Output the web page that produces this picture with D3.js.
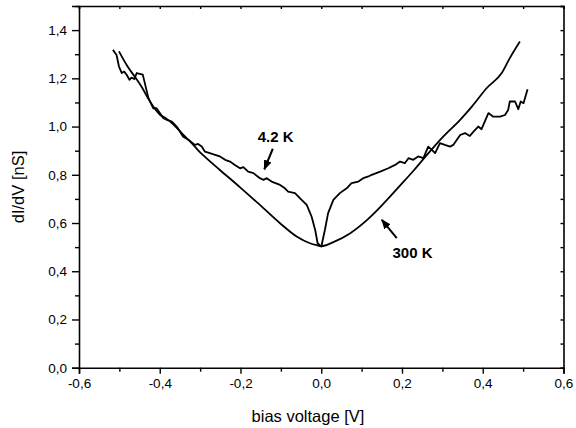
<!DOCTYPE html>
<html>
<head>
<meta charset="utf-8">
<script src="https://cdn.jsdelivr.net/npm/d3@7"></script>
<style>
  html, body { margin: 0; padding: 0; background: #fff; }
  svg { display: block; font-family: "Liberation Sans", Arial, sans-serif; }
</style>
</head>
<body>
<div id="chart"></div>
<script>
/* dI/dV vs bias voltage, 4.2 K и 300 K */

// Кривая 4.2 K (шумная, с провалом в нуле)
const curveLow = [
  [-0.516, 1.318], [-0.507, 1.297], [-0.501, 1.249], [-0.494, 1.222], [-0.488, 1.228],
  [-0.482, 1.215], [-0.475, 1.194], [-0.470, 1.203], [-0.463, 1.197], [-0.457, 1.222],
  [-0.442, 1.215], [-0.437, 1.180], [-0.428, 1.118], [-0.416, 1.076], [-0.408, 1.076],
  [-0.391, 1.035], [-0.383, 1.028], [-0.370, 1.021], [-0.358, 1.000], [-0.342, 0.958],
  [-0.329, 0.945], [-0.313, 0.924], [-0.305, 0.928], [-0.296, 0.917], [-0.288, 0.896],
  [-0.276, 0.890], [-0.263, 0.883], [-0.251, 0.876], [-0.238, 0.862], [-0.226, 0.855],
  [-0.214, 0.841], [-0.201, 0.827], [-0.193, 0.832], [-0.181, 0.813], [-0.168, 0.807],
  [-0.152, 0.786], [-0.143, 0.779], [-0.135, 0.786], [-0.123, 0.772], [-0.102, 0.758],
  [-0.090, 0.744], [-0.082, 0.730], [-0.065, 0.724], [-0.053, 0.703], [-0.036, 0.675],
  [-0.024, 0.627], [-0.015, 0.571], [-0.009, 0.516], [0.000, 0.502], [0.001, 0.509],
  [0.009, 0.571], [0.017, 0.641], [0.030, 0.696], [0.046, 0.724], [0.063, 0.744],
  [0.075, 0.765], [0.092, 0.772], [0.104, 0.786], [0.117, 0.793], [0.125, 0.800],
  [0.146, 0.813], [0.166, 0.827], [0.183, 0.841], [0.195, 0.855], [0.207, 0.848],
  [0.216, 0.869], [0.228, 0.862], [0.240, 0.876], [0.253, 0.869], [0.265, 0.917],
  [0.274, 0.903], [0.282, 0.890], [0.294, 0.931], [0.306, 0.924], [0.319, 0.917],
  [0.327, 0.924], [0.344, 0.965], [0.356, 0.973], [0.368, 0.961], [0.377, 0.979],
  [0.389, 1.000], [0.397, 0.989], [0.414, 1.056], [0.426, 1.041], [0.443, 1.041],
  [0.455, 1.048], [0.463, 1.069], [0.467, 1.104], [0.480, 1.104], [0.488, 1.072],
  [0.494, 1.104], [0.501, 1.097], [0.511, 1.155]
];

// Кривая 300 K (гладкая, V-образная)
const curveHigh = [
  [-0.501, 1.312], [-0.480, 1.250], [-0.461, 1.205], [-0.445, 1.165], [-0.430, 1.120],
  [-0.416, 1.083], [-0.400, 1.050], [-0.385, 1.035], [-0.370, 1.015], [-0.337, 0.958],
  [-0.313, 0.917], [-0.300, 0.893], [-0.288, 0.874], [-0.251, 0.820], [-0.201, 0.748],
  [-0.152, 0.675], [-0.102, 0.599], [-0.061, 0.544], [-0.028, 0.516], [-0.011, 0.508],
  [0.000, 0.504], [0.030, 0.521], [0.071, 0.557], [0.113, 0.612], [0.154, 0.680],
  [0.195, 0.755], [0.230, 0.820], [0.257, 0.873], [0.302, 0.958], [0.344, 1.028],
  [0.373, 1.083], [0.410, 1.160], [0.447, 1.222], [0.467, 1.284], [0.492, 1.353]
];

// Деления осей
const xTickValues = [-0.6, -0.4, -0.2, 0.0, 0.2, 0.4, 0.6];
const xMinorValues = [-0.5, -0.3, -0.1, 0.1, 0.3, 0.5];
const yTickValues = [0.0, 0.2, 0.4, 0.6, 0.8, 1.0, 1.2, 1.4];
const yMinorValues = [0.1, 0.3, 0.5, 0.7, 0.9, 1.1, 1.3, 1.5];

// Подписи со стрелками (в единицах данных)
const annotations = [
  { text: '4.2 K', at: [-0.113, 0.934], from: [-0.120, 0.908], to: [-0.141, 0.823] },
  { text: '300 K', at: [0.226, 0.457], from: [0.187, 0.537], to: [0.150, 0.613] }
];

const W = 576, H = 428;
const margin = { top: 6, right: 12.5, bottom: 60.3, left: 79 };
const width = W - margin.left - margin.right;
const height = H - margin.top - margin.bottom;

const fmt = d => d.toFixed(1).replace('.', ',');

const svg = d3.select('#chart').append('svg')
  .attr('width', W)
  .attr('height', H);

const x = d3.scaleLinear().domain([-0.6, 0.6]).range([margin.left, margin.left + width]);
const y = d3.scaleLinear().domain([0, 1.5]).range([margin.top + height, margin.top]);

// Оси
function styleAxis(g) {
  g.selectAll('path.domain').attr('stroke', '#000').attr('stroke-width', 1.6);
  g.selectAll('.tick line').attr('stroke', '#000').attr('stroke-width', 1.4);
  g.selectAll('.tick text').attr('fill', '#000').attr('font-size', '13.5px')
    .attr('font-family', '"Liberation Sans", Arial, sans-serif');
}

const bottom = svg.append('g').attr('transform', `translate(0,${margin.top + height})`);
bottom.call(d3.axisBottom(x).tickValues(xTickValues).tickSize(6).tickPadding(5).tickFormat(fmt)).call(styleAxis);
svg.append('g').attr('transform', `translate(0,${margin.top + height})`)
  .call(d3.axisBottom(x).tickValues(xMinorValues).tickSize(4).tickFormat(''))
  .call(styleAxis).select('.domain').remove();

const left = svg.append('g').attr('transform', `translate(${margin.left},0)`);
left.call(d3.axisLeft(y).tickValues(yTickValues).tickSize(7).tickPadding(5).tickFormat(fmt)).call(styleAxis);
svg.append('g').attr('transform', `translate(${margin.left},0)`)
  .call(d3.axisLeft(y).tickValues(yMinorValues).tickSize(4).tickFormat(''))
  .call(styleAxis).select('.domain').remove();

// Зеркальные оси сверху и справа, деления внутрь
svg.append('g').attr('transform', `translate(0,${margin.top})`)
  .call(d3.axisTop(x).tickValues(xTickValues.concat(xMinorValues)).tickSize(-3).tickFormat(''))
  .call(styleAxis);
svg.append('g').attr('transform', `translate(${margin.left + width},0)`)
  .call(d3.axisRight(y).tickValues(yTickValues.concat(yMinorValues)).tickSize(-3).tickFormat(''))
  .call(styleAxis);

// Кривые
const line = d3.line().x(d => x(d[0])).y(d => y(d[1]));

svg.append('path')
  .datum(curveHigh)
  .attr('fill', 'none')
  .attr('stroke', '#000')
  .attr('stroke-width', 1.8)
  .attr('stroke-linejoin', 'round')
  .attr('d', line.curve(d3.curveMonotoneX));

svg.append('path')
  .datum(curveLow)
  .attr('fill', 'none')
  .attr('stroke', '#000')
  .attr('stroke-width', 1.8)
  .attr('stroke-linejoin', 'round')
  .attr('d', line.curve(d3.curveLinear));

// Стрелки
svg.append('defs').append('marker')
  .attr('id', 'head')
  .attr('markerUnits', 'userSpaceOnUse')
  .attr('viewBox', '0 0 10 8')
  .attr('refX', 9).attr('refY', 4)
  .attr('markerWidth', 10).attr('markerHeight', 8)
  .attr('orient', 'auto')
  .append('path')
  .attr('d', 'M0,0 L10,4 L0,8 Z')
  .attr('fill', '#000');

const ann = svg.append('g').attr('class', 'annotations');
ann.selectAll('line').data(annotations).enter().append('line')
  .attr('x1', d => x(d.from[0])).attr('y1', d => y(d.from[1]))
  .attr('x2', d => x(d.to[0])).attr('y2', d => y(d.to[1]))
  .attr('stroke', '#000').attr('stroke-width', 2)
  .attr('marker-end', 'url(#head)');

ann.selectAll('text').data(annotations).enter().append('text')
  .attr('x', d => x(d.at[0])).attr('y', d => y(d.at[1]))
  .attr('text-anchor', 'middle')
  .attr('font-size', '15px')
  .attr('font-weight', 'bold')
  .text(d => d.text);

// Подписи осей
svg.append('text')
  .attr('x', 308).attr('y', 422)
  .attr('text-anchor', 'middle')
  .attr('font-size', '16.5px')
  .text('bias voltage [V]');

svg.append('text')
  .attr('transform', 'translate(24,187) rotate(-90)')
  .attr('text-anchor', 'middle')
  .attr('font-size', '16.5px')
  .text('dI/dV [nS]');
</script>
</body>
</html>
